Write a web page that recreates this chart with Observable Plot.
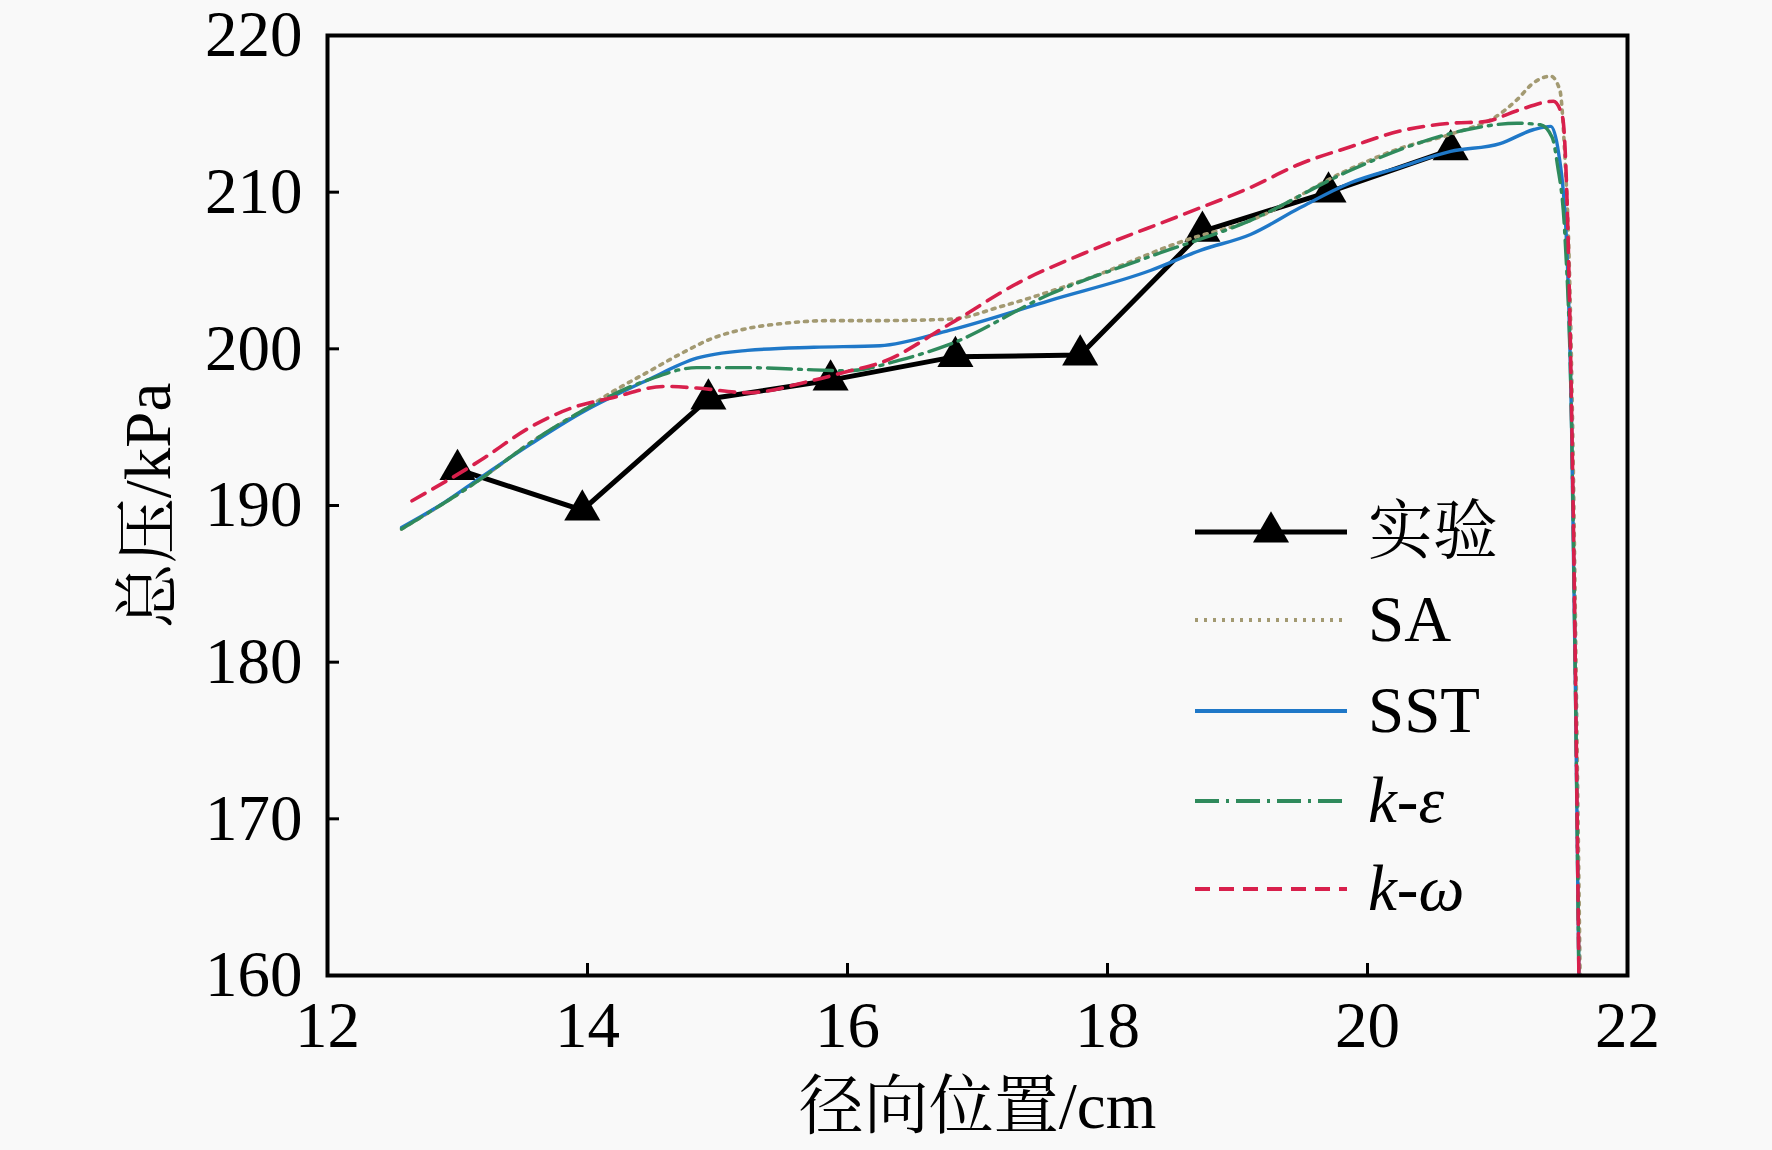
<!DOCTYPE html>
<html>
<head>
<meta charset="utf-8">
<script src="https://cdn.jsdelivr.net/npm/d3@7"></script>
<script src="https://cdn.jsdelivr.net/npm/@observablehq/plot@0.6"></script>
<style>
  html, body { margin: 0; padding: 0; background: #f9f9f9; }
  #wrap { position: relative; width: 1772px; height: 1150px; }
  #legend { position: absolute; left: 0; top: 0; pointer-events: none; }
</style>
</head>
<body>
<div id="wrap"></div>
<script>
const FONT = "'Liberation Serif', 'Times New Roman', 'Noto Serif CJK SC', 'Noto Sans CJK SC', serif";

// ---- data ----
const seriesNames = ["实验", "SA", "SST", "k-ε", "k-ω"];

const expX = [13.00, 13.96, 14.93, 15.87, 16.83, 17.79, 18.73, 19.70, 20.64];
const expY = [192.3, 189.7, 196.8, 198.0, 199.5, 199.6, 207.5, 210.0, 212.7];

const saX = [12.57, 13.18, 13.56, 13.95, 14.20, 14.46, 14.72, 14.97, 15.23, 15.48, 15.87, 16.25, 16.80, 17.18, 17.82, 18.59, 19.10, 19.87, 20.25, 20.64, 21.02, 21.15, 21.28, 21.41, 21.48, 21.52, 21.55, 21.58, 21.61, 21.64];
const saY = [188.5, 191.7, 194.0, 196.0, 197.3, 198.5, 199.7, 200.7, 201.3, 201.6, 201.8, 201.8, 201.9, 202.7, 204.4, 206.9, 208.2, 211.5, 212.8, 213.7, 215.0, 215.9, 217.0, 217.4, 216.5, 212.0, 206.0, 194.0, 176.0, 157.0];

const sstX = [12.57, 12.90, 13.18, 13.56, 13.95, 14.46, 14.84, 15.23, 15.74, 16.25, 16.79, 17.56, 18.33, 18.72, 19.10, 19.48, 19.87, 20.25, 20.64, 21.02, 21.28, 21.41, 21.47, 21.53, 21.57, 21.60, 21.63];
const sstY = [188.6, 190.2, 191.8, 193.9, 195.9, 198.0, 199.4, 199.9, 200.1, 200.2, 201.2, 203.1, 205.0, 206.3, 207.3, 209.0, 210.6, 211.6, 212.6, 213.1, 214.0, 214.2, 212.5, 207.0, 195.0, 178.0, 157.0];

const keX = [12.57, 13.18, 13.56, 13.95, 14.46, 14.84, 15.23, 15.61, 16.00, 16.41, 16.79, 17.56, 18.33, 19.10, 19.87, 20.38, 20.77, 21.15, 21.33, 21.42, 21.46, 21.52, 21.57, 21.60, 21.63];
const keY = [188.5, 191.7, 194.0, 196.0, 198.0, 198.8, 198.8, 198.7, 198.6, 199.3, 200.3, 203.5, 205.9, 208.2, 211.4, 213.1, 214.0, 214.4, 214.3, 213.5, 211.8, 207.0, 195.0, 178.0, 157.0];

const kwX = [12.65, 13.18, 13.56, 13.87, 14.20, 14.59, 14.84, 15.23, 15.74, 16.02, 16.25, 16.79, 17.31, 17.82, 18.59, 19.10, 19.48, 19.87, 20.25, 20.64, 20.90, 21.15, 21.43, 21.50, 21.54, 21.57, 21.60, 21.63];
const kwY = [190.3, 192.9, 195.0, 196.2, 196.9, 197.6, 197.5, 197.2, 198.0, 198.6, 199.1, 201.6, 204.2, 206.1, 208.6, 210.3, 211.8, 212.9, 213.9, 214.4, 214.5, 215.2, 215.8, 214.8, 208.0, 196.0, 179.0, 157.0];

const xTicks = [12, 14, 16, 18, 20, 22];
const yTicks = [160, 170, 180, 190, 200, 210, 220];
const xInnerTicks = [14, 16, 18, 20];
const yInnerTicks = [170, 180, 190, 200, 210];

// ---- styles ----
const styles = {
  "SA":  {stroke: "#a39a72", strokeWidth: 3.6, strokeDasharray: "3 6"},
  "SST": {stroke: "#1f78c8", strokeWidth: 3.4, strokeDasharray: null},
  "k-ε": {stroke: "#2f8a5c", strokeWidth: 3.4, strokeDasharray: "24 7 3 7"},
  "k-ω": {stroke: "#d8204c", strokeWidth: 3.6, strokeDasharray: "15 9"}
};

const toRows = (xs, ys) => xs.map((x, i) => ({x, y: ys[i]}));
const exp = toRows(expX, expY);
const sims = [
  ["SA", toRows(saX, saY)],
  ["SST", toRows(sstX, sstY)],
  ["k-ε", toRows(keX, keY)],
  ["k-ω", toRows(kwX, kwY)]
];

const chart = Plot.plot({
  width: 1772,
  height: 1150,
  marginLeft: 327,
  marginRight: 145,
  marginTop: 35,
  marginBottom: 175,
  style: {fontFamily: FONT, fontSize: "65px", background: "#f9f9f9", color: "black", overflow: "visible"},
  x: {domain: [12, 22]},
  y: {domain: [160, 220]},
  marks: [
    Plot.axisX(xTicks, {tickSize: 0, tickPadding: 25, fontSize: 65, label: "径向位置/cm", labelAnchor: "center", labelOffset: 152, labelArrow: false, tickFormat: d => d}),
    Plot.axisY(yTicks, {tickSize: 0, tickPadding: 25, fontSize: 65, label: "总压/kPa", labelAnchor: "center", labelOffset: 204, labelArrow: false, tickFormat: d => d}),
    Plot.tickX(xInnerTicks, {x: d => d, insetTop: 928, stroke: "black", strokeWidth: 3}),
    Plot.tickY(yInnerTicks, {y: d => d, insetRight: 1288, stroke: "black", strokeWidth: 3}),
    Plot.line(exp, {x: "x", y: "y", stroke: "black", strokeWidth: 5}),
    Plot.dot(exp, {x: "x", y: "y", symbol: "triangle", r: 13.4, fill: "black", stroke: "none"}),
    ...sims.map(([name, rows]) => Plot.line(rows, {x: "x", y: "y", curve: "monotone-x", clip: true, ...styles[name]})),
    Plot.frame({stroke: "black", strokeWidth: 4})
  ]
});

const wrap = document.getElementById("wrap");
wrap.appendChild(chart);

// ---- legend overlay ----
const lg = d3.select(wrap).append("svg")
  .attr("id", "legend")
  .attr("width", 1772).attr("height", 1150);
const rowsY = [532, 620, 711, 801, 889];
const lx0 = 1195, lx1 = 1347, tx = 1368;
seriesNames.forEach((name, i) => {
  const y = rowsY[i];
  if (name === "实验") {
    lg.append("line").attr("x1", lx0).attr("x2", lx1).attr("y1", y).attr("y2", y)
      .attr("stroke", "black").attr("stroke-width", 5);
    lg.append("path").attr("transform", `translate(${(lx0 + lx1) / 2},${y})`)
      .attr("d", d3.symbol(d3.symbolTriangle, Math.PI * 13.4 * 13.4)()).attr("fill", "black");
  } else {
    const s = styles[name];
    lg.append("line").attr("x1", lx0).attr("x2", lx1).attr("y1", y).attr("y2", y)
      .attr("stroke", s.stroke).attr("stroke-width", s.strokeWidth + 0.6)
      .attr("stroke-dasharray", s.strokeDasharray);
  }
  const t = lg.append("text").attr("x", tx).attr("y", y + 21)
    .attr("font-family", FONT).attr("font-size", 65).attr("fill", "black");
  if (name.startsWith("k-")) {
    t.append("tspan").attr("font-style", "italic").text("k");
    t.append("tspan").text("-");
    t.append("tspan").attr("font-style", "italic").text(name.slice(2));
  } else {
    t.text(name);
  }
});
</script>
</body>
</html>
